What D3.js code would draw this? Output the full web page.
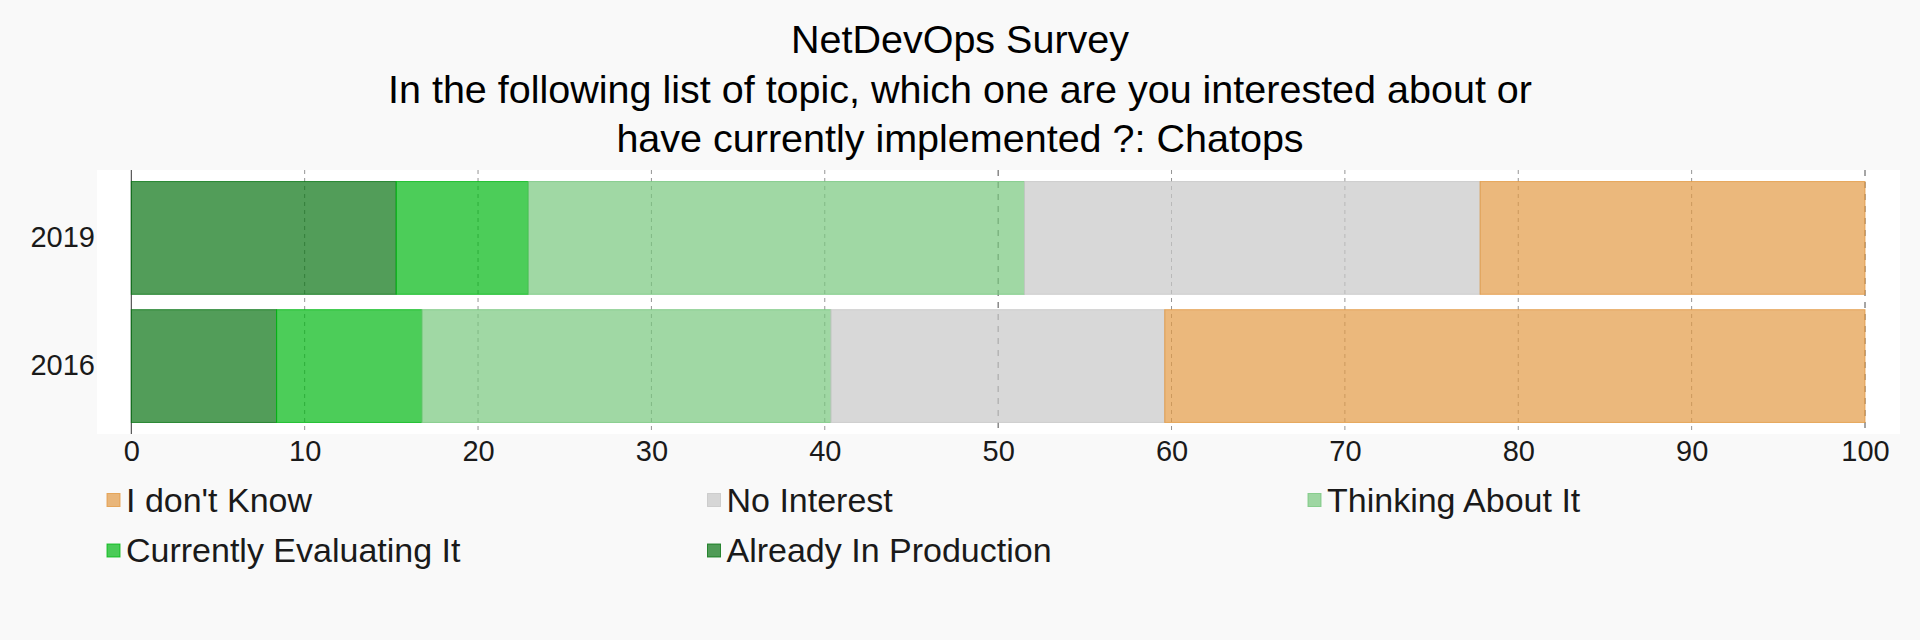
<!DOCTYPE html>
<html>
<head>
<meta charset="utf-8">
<script src="https://cdn.jsdelivr.net/npm/d3@7"></script>
<style>
  body { margin: 0; background: #f9f9f9; }
  svg { display: block; font-family: "Liberation Sans", Arial, Helvetica, sans-serif; }
</style>
</head>
<body>
<div id="chart"></div>
<script>
// data
const years = ['2019', '2016'];
const seriesNames = ['Already In Production', 'Currently Evaluating It', 'Thinking About It', 'No Interest', "I don't Know"];
const production = [15.28, 8.38];
const evaluating = [7.62, 8.38];
const thinking = [28.62, 23.59];
const noInterest = [26.28, 19.26];
const dontKnow = [22.2, 40.39];
const xTicks = [0, 10, 20, 30, 40, 50, 60, 70, 80, 90, 100];
const majorTicks = [50, 100];
const legendOrder = ["I don't Know", 'No Interest', 'Thinking About It', 'Currently Evaluating It', 'Already In Production'];
const titleLines = ['NetDevOps Survey',
  'In the following list of topic, which one are you interested about or',
  'have currently implemented ?: Chatops'];

const colors = {
  'Already In Production': 'rgb(8,116,19)',
  'Currently Evaluating It': 'rgb(0,184,19)',
  'Thinking About It': 'rgb(119,199,126)',
  'No Interest': 'rgb(199,199,199)',
  "I don't Know": 'rgb(226,154,68)'
};

const W = 1920, H = 640;
const svg = d3.select('#chart').append('svg').attr('width', W).attr('height', H);
svg.append('rect').attr('width', W).attr('height', H).attr('fill', '#f9f9f9');

// title
svg.append('g').selectAll('text').data(titleLines).join('text')
  .attr('x', W / 2)
  .attr('y', (d, i) => 53 + i * 49.5)
  .attr('text-anchor', 'middle')
  .style('font-size', '39.5px')
  .style('fill', '#000')
  .text(d => d);

// plot area
const plot = { left: 97, right: 1900, top: 170, bottom: 434 };
svg.append('rect')
  .attr('x', plot.left).attr('y', plot.top)
  .attr('width', plot.right - plot.left).attr('height', plot.bottom - plot.top)
  .attr('fill', '#fff');

const x = d3.scaleLinear().domain([0, 100]).range([131.3, 1865]);
const y = d3.scaleBand().domain(years).range([plot.top, plot.bottom])
  .paddingInner(0.12).paddingOuter(0.09);

// guides
const guides = svg.append('g');
guides.selectAll('line').data(xTicks.filter(t => t !== 0)).join('line')
  .attr('x1', d => x(d)).attr('x2', d => x(d))
  .attr('y1', plot.top).attr('y2', plot.bottom)
  .attr('stroke', d => majorTicks.includes(d) ? 'rgba(0,0,0,0.7)' : 'rgba(0,0,0,0.42)')
  .attr('stroke-dasharray', d => majorTicks.includes(d) ? '6,6' : '4,4')
  .attr('stroke-width', 1);

// zero line
svg.append('line')
  .attr('x1', x(0)).attr('x2', x(0))
  .attr('y1', plot.top).attr('y2', plot.bottom)
  .attr('stroke', 'rgba(0,0,0,0.8)').attr('stroke-width', 1);

// stacked bars
const table = years.map((yr, i) => ({
  year: yr,
  'Already In Production': production[i],
  'Currently Evaluating It': evaluating[i],
  'Thinking About It': thinking[i],
  'No Interest': noInterest[i],
  "I don't Know": dontKnow[i]
}));
const stacked = d3.stack().keys(seriesNames)(table);

svg.append('g').selectAll('g').data(stacked).join('g')
  .attr('fill', d => colors[d.key])
  .attr('stroke', d => colors[d.key])
  .attr('fill-opacity', 0.7)
  .attr('stroke-opacity', 0.8)
  .selectAll('rect').data(d => d).join('rect')
  .attr('x', d => x(d[0]))
  .attr('y', d => y(d.data.year))
  .attr('width', d => x(d[1]) - x(d[0]))
  .attr('height', y.bandwidth());

// x axis labels
const xAxis = svg.append('g')
  .attr('transform', `translate(0,${plot.bottom})`)
  .call(d3.axisBottom(x).tickValues(xTicks).tickSize(0).tickPadding(6).tickFormat(d3.format('d')));
xAxis.select('.domain').remove();
xAxis.selectAll('text').style('font-size', '29px').style('fill', '#1a1a1a')
  .style('font-family', '"Liberation Sans", Arial, sans-serif');

// y axis labels
const yAxis = svg.append('g')
  .attr('transform', `translate(${plot.left},0)`)
  .call(d3.axisLeft(y).tickSize(0).tickPadding(2));
yAxis.select('.domain').remove();
yAxis.selectAll('text').style('font-size', '29px').style('fill', '#1a1a1a')
  .style('font-family', '"Liberation Sans", Arial, sans-serif');

// legend
const legend = svg.append('g');
const item = legend.selectAll('g').data(legendOrder).join('g')
  .attr('transform', (d, i) => `translate(${107 + (i % 3) * 600.5},${500 + Math.floor(i / 3) * 50.5})`);
item.append('rect')
  .attr('x', 0).attr('y', -6.5).attr('width', 13).attr('height', 13)
  .attr('fill', d => colors[d]).attr('fill-opacity', 0.7)
  .attr('stroke', d => colors[d]).attr('stroke-opacity', 0.8);
item.append('text')
  .attr('x', 19).attr('y', 11.5)
  .style('font-size', '34px')
  .style('fill', '#1a1a1a')
  .text(d => d);
</script>
</body>
</html>
